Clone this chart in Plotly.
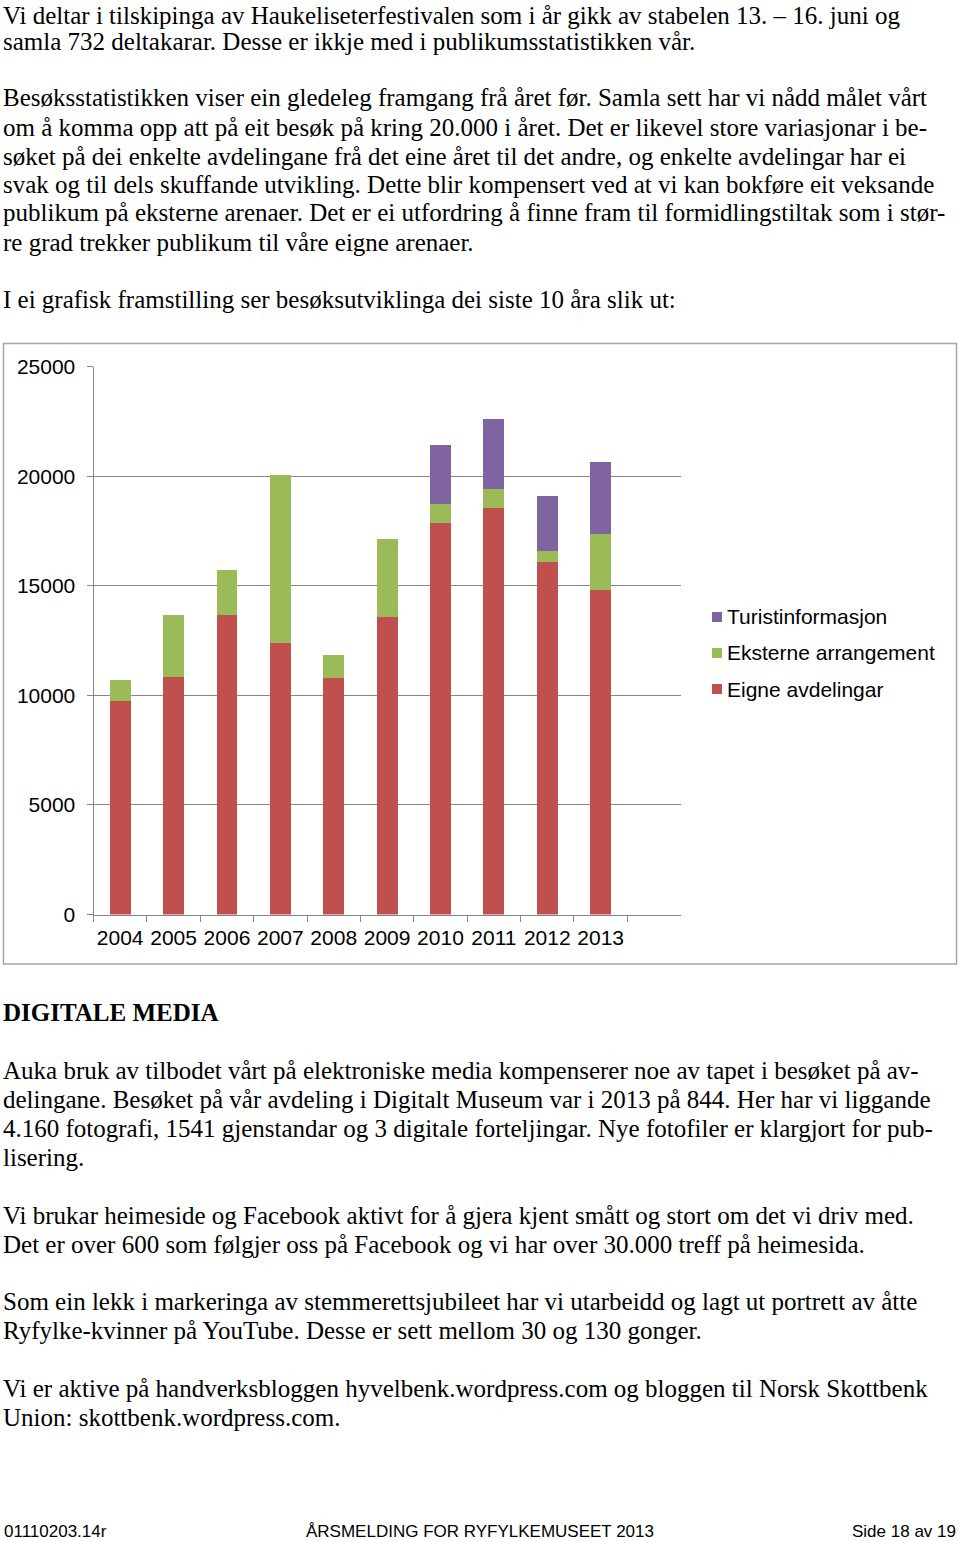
import plotly.graph_objects as go

W, H = 960, 1541

years = ["2004", "2005", "2006", "2007", "2008", "2009", "2010", "2011", "2012", "2013"]
eigne = [9750, 10820, 13660, 12410, 10780, 13600, 17870, 18570, 16090, 14830]
eksterne = [970, 2870, 2080, 7640, 1070, 3520, 860, 860, 520, 2520]
turist = [None, None, None, None, None, None, 2710, 3200, 2490, 3300]
series_names = ["Eigne avdelingar", "Eksterne arrangement", "Turistinformasjon"]
series_colors = ["#C0504D", "#9BBB59", "#8064A2"]
y_ticks = [0, 5000, 10000, 15000, 20000, 25000]

top_lines = [
    ("Vi deltar i tilskipinga av Haukeliseterfestivalen som i år gikk av stabelen 13. – 16. juni og", 15.5),
    ("samla 732 deltakarar. Desse er ikkje med i publikumsstatistikken vår.", 41),
    ("Besøksstatistikken viser ein gledeleg framgang frå året før. Samla sett har vi nådd målet vårt", 98),
    ("om å komma opp att på eit besøk på kring 20.000 i året. Det er likevel store variasjonar i be-", 127),
    ("søket på dei enkelte avdelingane frå det eine året til det andre, og enkelte avdelingar har ei", 156),
    ("svak og til dels skuffande utvikling. Dette blir kompensert ved at vi kan bokføre eit veksande", 185),
    ("publikum på eksterne arenaer. Det er ei utfordring å finne fram til formidlingstiltak som i stør-", 213),
    ("re grad trekker publikum til våre eigne arenaer.", 242),
    ("I ei grafisk framstilling ser besøksutviklinga dei siste 10 åra slik ut:", 300),
]
bottom_lines = [
    ("Auka bruk av tilbodet vårt på elektroniske media kompenserer noe av tapet i besøket på av-", 1070),
    ("delingane. Besøket på vår avdeling i Digitalt Museum var i 2013 på 844. Her har vi liggande", 1099),
    ("4.160 fotografi, 1541 gjenstandar og 3 digitale forteljingar. Nye fotofiler er klargjort for pub-", 1128),
    ("lisering.", 1157),
    ("Vi brukar heimeside og Facebook aktivt for å gjera kjent smått og stort om det vi driv med.", 1215),
    ("Det er over 600 som følgjer oss på Facebook og vi har over 30.000 treff på heimesida.", 1244),
    ("Som ein lekk i markeringa av stemmerettsjubileet har vi utarbeidd og lagt ut portrett av åtte", 1301),
    ("Ryfylke-kvinner på YouTube. Desse er sett mellom 30 og 130 gonger.", 1330),
    ("Vi er aktive på handverksbloggen hyvelbenk.wordpress.com og bloggen til Norsk Skottbenk", 1388),
    ("Union: skottbenk.wordpress.com.", 1417),
]
heading = "DIGITALE MEDIA"
footer_left = "01110203.14r"
footer_mid = "ÅRSMELDING FOR RYFYLKEMUSEET 2013"
footer_right = "Side 18 av 19"


def px(x):
    return x / W


def py(y):
    return 1 - y / H


SERIF = "Times New Roman, Liberation Serif, serif"
SANS = "Arial, Liberation Sans, sans-serif"
TXT = 25

fig = go.Figure()
for name, vals, col in zip(series_names, [eigne, eksterne, turist], series_colors):
    fig.add_trace(go.Bar(x=years, y=vals, name=name, marker=dict(color=col, line=dict(width=0)),
                         showlegend=False))

ann = []
for txt, yc in top_lines + bottom_lines:
    ann.append(dict(text=txt, x=px(2), y=py(yc), xref="paper", yref="paper", xanchor="left",
                    yanchor="middle", showarrow=False, borderpad=0,
                    font=dict(family=SERIF, size=TXT, color="black")))
ann.append(dict(text="<b>" + heading + "</b>", x=px(2), y=py(1012), xref="paper", yref="paper",
                xanchor="left", yanchor="middle", showarrow=False, borderpad=0,
                font=dict(family=SERIF, size=TXT, color="black")))
ann.append(dict(text=footer_left, x=px(2), y=py(1531), xref="paper", yref="paper", xanchor="left",
                yanchor="middle", showarrow=False, font=dict(family=SANS, size=17, color="black")))
ann.append(dict(text=footer_mid, x=px(480), y=py(1531), xref="paper", yref="paper", xanchor="center",
                yanchor="middle", showarrow=False, font=dict(family=SANS, size=17, color="black")))
ann.append(dict(text=footer_right, x=px(958), y=py(1531), xref="paper", yref="paper", xanchor="right",
                yanchor="middle", showarrow=False, font=dict(family=SANS, size=17, color="black")))

shapes = [dict(type="rect", xref="paper", yref="paper", x0=px(3.5), x1=px(956.5), y0=py(964), y1=py(343.5),
               line=dict(color="#A6A6A6", width=1.5), layer="below")]

# manual legend (top item = last series)
leg_y = [689, 653, 617]
for name, col, yc in zip(series_names, series_colors, leg_y):
    shapes.append(dict(type="rect", xref="paper", yref="paper", x0=px(712), x1=px(722),
                       y0=py(yc + 5), y1=py(yc - 5), fillcolor=col, line=dict(width=0)))
    ann.append(dict(text=name, x=px(725), y=py(yc), xref="paper", yref="paper", xanchor="left",
                    yanchor="middle", showarrow=False, font=dict(family=SANS, size=21, color="black")))

fig.update_layout(
    width=W, height=H, margin=dict(l=0, r=0, t=0, b=0, pad=0, autoexpand=False),
    paper_bgcolor="white", plot_bgcolor="white",
    barmode="stack", bargap=0.61,
    annotations=ann, shapes=shapes,
    xaxis=dict(domain=[px(93.5), px(680.7)], type="category", range=[-0.5, 10.5],
               showgrid=False, showline=True, linecolor="#868686", linewidth=1,
               ticks="outside", tickson="boundaries", ticklen=6, tickcolor="#868686", tickangle=0,
               tickfont=dict(family=SANS, size=21, color="black"), ticklabelstandoff=4),
    yaxis=dict(domain=[py(914.5), py(366.7)], range=[0, 25000], tickvals=y_ticks, tickformat="d",
               showgrid=True, gridcolor="#868686", gridwidth=1, zeroline=False,
               showline=True, linecolor="#868686", linewidth=1,
               ticks="outside", ticklen=6, tickcolor="#868686",
               tickfont=dict(family=SANS, size=21, color="black"), ticklabelstandoff=7),
)

fig.write_html("out.html", config={"displayModeBar": False},
               post_script="document.body.style.margin='0';")
